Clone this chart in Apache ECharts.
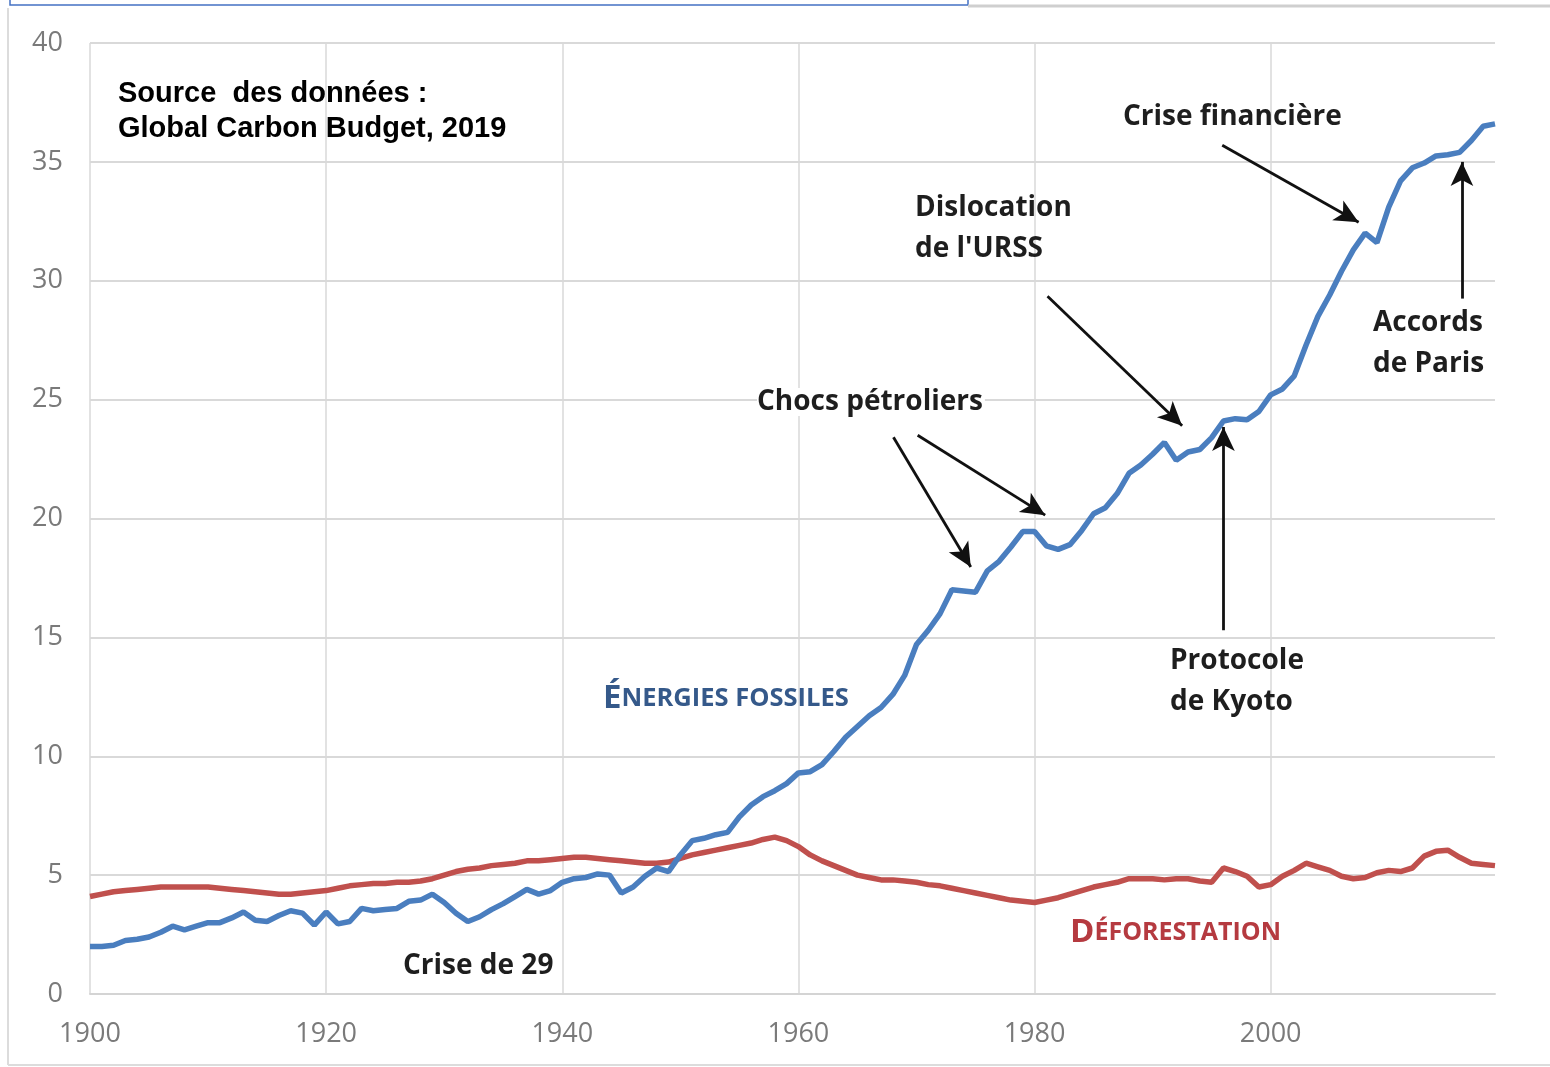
<!DOCTYPE html>
<html>
<head>
<meta charset="utf-8">
<script src="https://cdn.jsdelivr.net/npm/echarts@6/dist/echarts.min.js"></script>
<style>html,body{margin:0;padding:0;background:#fff;}#chart{width:1550px;height:1067px;}</style>
</head>
<body>
<div id="chart"></div>
<script>
// ---- Data (Gt CO2 per year) ----
const years = [];
for (let y = 1900; y <= 2019; y++) years.push(y);

const fossilValues = [
  2.0, 2.0, 2.05, 2.25, 2.3, 2.4, 2.6, 2.85, 2.7, 2.85,
  3.0, 3.0, 3.2, 3.45, 3.1, 3.05, 3.3, 3.5, 3.4, 2.9,
  3.45, 2.95, 3.05, 3.6, 3.5, 3.55, 3.6, 3.9, 3.95, 4.2,
  3.85, 3.4, 3.05, 3.25, 3.55, 3.8, 4.1, 4.4, 4.2, 4.35,
  4.7, 4.85, 4.9, 5.05, 5.0, 4.25, 4.5, 4.95, 5.3, 5.15,
  5.85, 6.45, 6.55, 6.7, 6.8, 7.45, 7.95, 8.3, 8.55, 8.85,
  9.3, 9.35, 9.65, 10.2, 10.8, 11.25, 11.7, 12.05, 12.6, 13.4,
  14.7, 15.3, 16.0, 17.0, 16.95, 16.9, 17.8, 18.2, 18.8, 19.45,
  19.45, 18.85, 18.7, 18.9, 19.5, 20.2, 20.45, 21.05, 21.9, 22.25,
  22.7, 23.2, 22.45, 22.8, 22.9, 23.4, 24.1, 24.2, 24.15, 24.5,
  25.2, 25.45, 26.0, 27.3, 28.5, 29.4, 30.4, 31.3, 32.0, 31.6,
  33.1, 34.2, 34.75, 34.95, 35.25, 35.3, 35.4, 35.9, 36.5, 36.6
];

const deforestValues = [
  4.1, 4.2, 4.3, 4.35, 4.4, 4.45, 4.5, 4.5, 4.5, 4.5,
  4.5, 4.45, 4.4, 4.35, 4.3, 4.25, 4.2, 4.2, 4.25, 4.3,
  4.35, 4.45, 4.55, 4.6, 4.65, 4.65, 4.7, 4.7, 4.75, 4.85,
  5.0, 5.15, 5.25, 5.3, 5.4, 5.45, 5.5, 5.6, 5.6, 5.65,
  5.7, 5.75, 5.75, 5.7, 5.65, 5.6, 5.55, 5.5, 5.5, 5.55,
  5.7, 5.85, 5.95, 6.05, 6.15, 6.25, 6.35, 6.5, 6.6, 6.45,
  6.2, 5.85, 5.6, 5.4, 5.2, 5.0, 4.9, 4.8, 4.8, 4.75,
  4.7, 4.6, 4.55, 4.45, 4.35, 4.25, 4.15, 4.05, 3.95, 3.9,
  3.85, 3.95, 4.05, 4.2, 4.35, 4.5, 4.6, 4.7, 4.85, 4.85,
  4.85, 4.8, 4.85, 4.85, 4.75, 4.7, 5.3, 5.15, 4.95, 4.5,
  4.6, 4.95, 5.2, 5.5, 5.35, 5.2, 4.95, 4.85, 4.9, 5.1,
  5.2, 5.15, 5.3, 5.8, 6.0, 6.05, 5.75, 5.5, 5.45, 5.4
];

const yTicks = { min: 0, max: 40, interval: 5 };
const xTicks = { min: 1900, max: 2019, interval: 20 };

// Arrow annotations: [startYear, startValue, endYear, endValue]
const arrows = [
  [1968.05, 23.42, 1974.6, 17.96],
  [1970.1, 23.5, 1980.9, 20.14],
  [1981.1, 29.35, 1992.5, 23.9],
  [1995.9, 35.7, 2007.45, 32.46],
  [1996.0, 15.3, 1996.0, 23.85],
  [2016.2, 29.25, 2016.2, 35.0]
];

const fossilData = years.map((y, i) => [y, fossilValues[i]]);
const deforestData = years.map((y, i) => [y, deforestValues[i]]);

const chart = echarts.init(document.getElementById('chart'), null, { renderer: 'canvas' });

const annFont = '"Open Sans", Lato, sans-serif';
const ann = (x, y, text, extra) => ({
  type: 'text', x: x, y: y, z: 10,
  style: Object.assign({ text: text, font: 'bold 28px ' + annFont, fill: '#1e1e1e', align: 'left', verticalAlign: 'middle' }, extra || {})
});

const gridColors = ['#d9d9d9', '#d9d9d9', '#d9d9d9', '#d9d9d9', '#d9d9d9', '#d9d9d9', 'rgba(0,0,0,0)'];

chart.setOption({
  animation: false,
  backgroundColor: '#ffffff',
  grid: { left: 90, right: 55, top: 43, bottom: 73, containLabel: false },
  xAxis: {
    type: 'value', min: xTicks.min, max: xTicks.max, interval: xTicks.interval,
    axisLine: { show: true, lineStyle: { color: '#d4d4d4', width: 2 } },
    axisTick: { show: false },
    axisLabel: { color: '#7a7a7a', fontSize: 27, fontFamily: '"Open Sans", sans-serif', margin: 27, showMaxLabel: false,
      formatter: v => String(v) },
    splitLine: { show: true, lineStyle: { color: gridColors, width: 1.5 } }
  },
  yAxis: {
    type: 'value', min: yTicks.min, max: yTicks.max, interval: yTicks.interval,
    axisLine: { show: false },
    axisTick: { show: false },
    axisLabel: { color: '#7a7a7a', fontSize: 27, fontFamily: '"Open Sans", sans-serif', margin: 27 },
    splitLine: { show: true, lineStyle: { color: '#d9d9d9', width: 2 } }
  },
  series: [
    {
      name: 'Déforestation', type: 'line', data: deforestData, showSymbol: false, smooth: false,
      lineStyle: { color: '#c0504d', width: 5.5 }, itemStyle: { color: '#c0504d' }, z: 2
    },
    {
      name: 'Énergies fossiles', type: 'line', data: fossilData, showSymbol: false, smooth: false,
      lineStyle: { color: '#4a7ebf', width: 5.5 }, itemStyle: { color: '#4a7ebf' }, z: 3,
      markLine: {
        silent: true, animation: false,
        symbol: ['none', 'arrow'], symbolSize: [17, 24],
        label: { show: false },
        lineStyle: { color: '#111111', width: 2.8, type: 'solid' },
        data: arrows.map(a => [{ coord: [a[0], a[1]] }, { coord: [a[2], a[3]] }])
      }
    }
  ],
  graphic: [
    { type: 'rect', shape: { x: 10, y: -6, width: 958, height: 11 }, style: { fill: 'none', stroke: '#4472c4', lineWidth: 1.5 } },
    { type: 'line', shape: { x1: 968, y1: 6, x2: 1550, y2: 6 }, style: { stroke: '#cfcfcf', lineWidth: 3 } },
    { type: 'line', shape: { x1: 8, y1: 8, x2: 8, y2: 1065 }, style: { stroke: '#dcdcdc', lineWidth: 2 } },
    { type: 'line', shape: { x1: 8, y1: 1065, x2: 1550, y2: 1065 }, style: { stroke: '#dcdcdc', lineWidth: 2 } },
    { type: 'text', x: 118, y: 94, z: 10, style: { text: 'Source  des données :', font: 'bold 29px "Liberation Sans", Arial, sans-serif', fill: '#000', verticalAlign: 'middle' } },
    { type: 'text', x: 118, y: 129, z: 10, style: { text: 'Global Carbon Budget, 2019', font: 'bold 29px "Liberation Sans", Arial, sans-serif', fill: '#000', verticalAlign: 'middle' } },
    ann(1123, 117, 'Crise financière'),
    ann(915, 208, 'Dislocation'),
    ann(915, 249, "de l'URSS"),
    ann(757, 402, 'Chocs pétroliers', { backgroundColor: '#ffffff', padding: [0, 2, 0, 0] }),
    ann(1170, 661, 'Protocole'),
    ann(1170, 702, 'de Kyoto'),
    ann(1373, 323, 'Accords'),
    ann(1373, 364, 'de Paris'),
    ann(403, 966, 'Crise de 29'),
    {
      type: 'text', x: 603, y: 699, z: 10,
      style: {
        verticalAlign: 'middle',
        rich: {
          a: { fontSize: 33, fontWeight: 'bold', fontFamily: annFont, fill: '#35598a', color: '#35598a' },
          b: { fontSize: 25.5, fontWeight: 'bold', fontFamily: annFont, fill: '#35598a', color: '#35598a' }
        },
        text: '{a|É}{b|NERGIES FOSSILES}'
      }
    },
    {
      type: 'text', x: 1070, y: 933, z: 10,
      style: {
        verticalAlign: 'middle',
        rich: {
          a: { fontSize: 33, fontWeight: 'bold', fontFamily: annFont, fill: '#b53a40', color: '#b53a40' },
          b: { fontSize: 25, fontWeight: 'bold', fontFamily: annFont, fill: '#b53a40', color: '#b53a40' }
        },
        text: '{a|D}{b|ÉFORESTATION}'
      }
    }
  ]
});
</script>
</body>
</html>
